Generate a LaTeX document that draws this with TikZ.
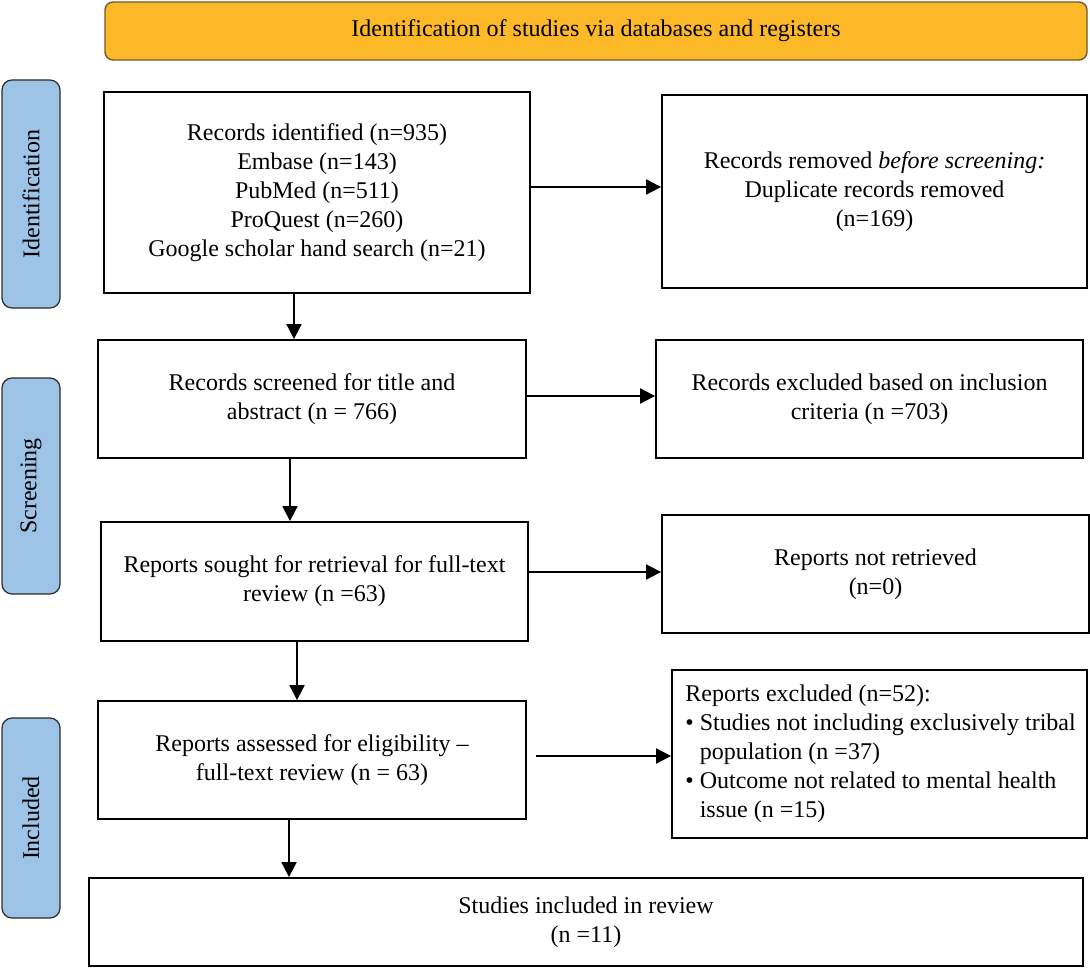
\documentclass[tikz,border=0pt]{standalone}
\usepackage{fontspec}
\setmainfont{Liberation Serif}
\usetikzlibrary{arrows.meta}
\definecolor{hdrfill}{HTML}{FDB827}
\definecolor{hdrdraw}{HTML}{6E5A2A}
\definecolor{sidefill}{HTML}{9DC3E6}
\definecolor{sidedraw}{HTML}{2B2B2B}
\begin{document}
\begin{tikzpicture}[x=0.5pt,y=-0.5pt,
  box/.style={draw=black, line width=0.9pt, fill=white, inner sep=0pt, align=center, font=\fontsize{12}{14.5}\selectfont},
  txt/.style={inner sep=0pt, align=center, font=\fontsize{12}{14.5}\selectfont},
  side/.style={draw=sidedraw, line width=0.6pt, fill=sidefill, rounded corners=5pt, minimum width=29pt, inner sep=0pt, font=\fontsize{12}{14.5}\selectfont},
  hdr/.style={draw=hdrdraw, line width=0.7pt, fill=hdrfill, rounded corners=4pt, minimum width=491pt, minimum height=29pt, inner sep=0pt, font=\fontsize{12}{14.5}\selectfont},
  arr/.style={line width=0.9pt, -{Triangle[length=7.5pt,width=7.5pt]}}
]
\useasboundingbox (0,0) rectangle (1090,968);
\node[hdr] (hdr) at (596,31) {\raisebox{-1pt}{Identification of studies via databases and registers}};
\node[side, minimum height=114pt] (s1) at (31,194) {\rotatebox{90}{Identification}};
\node[side, minimum height=108pt] (s2) at (31,486) {\rotatebox{90}{Screening}};
\node[side, minimum height=100pt] (s3) at (31,818) {\rotatebox{90}{Included}};

\node[box, minimum width=213pt, minimum height=100.5pt] (A) at (317,192.5) {Records identified (n=935)\\Embase (n=143)\\PubMed (n=511)\\ProQuest (n=260)\\Google scholar hand search (n=21)};
\node[box, minimum width=212.5pt, minimum height=96.5pt] (B) at (874.5,191.5) {Records removed \emph{before screening:}\\Duplicate records removed\\(n=169)};
\node[box, minimum width=214pt, minimum height=59pt] (C) at (312,399) {Records screened for title and\\abstract (n = 766)};
\node[box, minimum width=213.5pt, minimum height=59pt] (D) at (869.5,399) {Records excluded based on inclusion\\criteria (n =703)};
\node[box, minimum width=213.5pt, minimum height=59.5pt] (E) at (314.5,581.5) {Reports sought for retrieval for full-text\\review (n =63)};
\node[box, minimum width=213.5pt, minimum height=59pt] (F) at (875.5,574) {Reports not retrieved\\(n=0)};
\node[box, minimum width=214pt, minimum height=59pt] (G) at (312,760) {Reports assessed for eligibility --\\full-text review (n = 63)};
\node[box, minimum width=207.5pt, minimum height=84pt] (H) at (879.5,754) {};
\node[txt, anchor=west, align=left] (Ht) at (685,754) {Reports excluded (n=52):\\\textbullet\ Studies not including exclusively tribal\\\hphantom{\textbullet\ }population (n =37)\\\textbullet\ Outcome not related to mental health\\\hphantom{\textbullet\ }issue (n =15)};
\node[box, minimum width=497pt, minimum height=44pt] (I) at (586,922) {Studies included in review\\(n =11)};

\draw[arr] (A.east |- 0,187) -- (B.west |- 0,187);
\draw[arr] (A.south -| 294,0) -- (C.north -| 294,0);
\draw[arr] (C.east |- 0,396) -- (D.west |- 0,396);
\draw[arr] (C.south -| 290,0) -- (E.north -| 290,0);
\draw[arr] (E.east |- 0,572) -- (F.west |- 0,572);
\draw[arr] (E.south -| 297,0) -- (G.north -| 297,0);
\draw[arr, shorten <=4.5pt] (G.east |- 0,756) -- (H.west |- 0,756);
\draw[arr] (G.south -| 289,0) -- (I.north -| 289,0);
\end{tikzpicture}
\end{document}
